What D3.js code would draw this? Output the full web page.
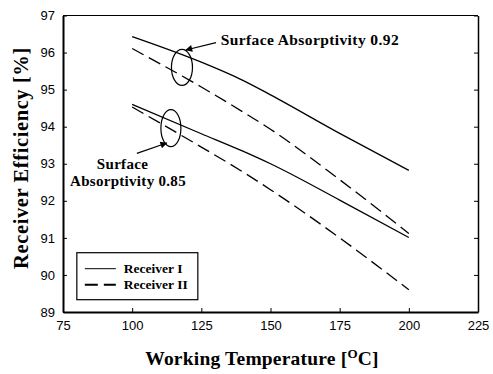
<!DOCTYPE html>
<html>
<head>
<meta charset="utf-8">
<script src="https://cdn.jsdelivr.net/npm/d3@7"></script>
<style>
  body { margin: 0; background: #fff; }
  .tick text { font-family: "Liberation Sans", Arial, sans-serif; font-size: 13px; fill: #000; }
  .lbl { font-family: "Liberation Serif", "Times New Roman", serif; font-weight: bold; fill: #000; }
</style>
</head>
<body>
<script>
// data
var temps = [100, 125, 140, 150, 175, 200];
var recI_092 = [96.43, 95.74, 95.25, 94.86, 93.82, 92.82];
var recII_092 = [96.11, 95.07, 94.40, 93.93, 92.57, 91.12];
var recI_085 = [94.60, 93.81, 93.34, 93.00, 92.02, 91.01];
var recII_085 = [94.53, 93.45, 92.78, 92.30, 91.00, 89.60];
var xTicks = [75, 100, 125, 150, 175, 200, 225];
var yTicks = [89, 90, 91, 92, 93, 94, 95, 96, 97];

var margin = {top: 15.5, right: 15, bottom: 62, left: 63},
  width = 493 - margin.left - margin.right,
  height = 374 - margin.top - margin.bottom;

var svg = d3.select("body").append("svg")
  .attr("width", 493)
  .attr("height", 374);

var defs = svg.append("defs");
defs.append("marker")
  .attr("id", "arr")
  .attr("viewBox", "0 0 10 10")
  .attr("refX", 9).attr("refY", 5)
  .attr("markerWidth", 9).attr("markerHeight", 7)
  .attr("markerUnits", "userSpaceOnUse")
  .attr("orient", "auto")
  .append("path").attr("d", "M0,0 L10,5 L0,10 z").attr("fill", "#000");

var g = svg.append("g")
  .attr("transform", "translate(" + margin.left + "," + margin.top + ")");

var x = d3.scaleLinear().domain([75, 225]).range([0, width]);
var y = d3.scaleLinear().domain([89, 97]).range([height, 0]);

// axes, ticks inward
var xAxis = d3.axisBottom(x).tickValues(xTicks).tickSizeInner(-4).tickSizeOuter(0).tickPadding(9);
var yAxis = d3.axisLeft(y).tickValues(yTicks).tickSizeInner(-4).tickSizeOuter(0).tickPadding(8);

var gx = g.append("g").attr("transform", "translate(0," + height + ")").call(xAxis);
var gy = g.append("g").call(yAxis);
gx.select(".domain").attr("stroke-width", 2);
gy.select(".domain").attr("stroke-width", 2);

g.append("g").attr("transform", "translate(" + width + ",0)")
  .call(d3.axisRight(y).tickValues(yTicks).tickSizeInner(-4).tickSizeOuter(0).tickFormat(""))
  .select(".domain").attr("stroke-width", 1.5);
g.append("line").attr("x1", 0).attr("x2", width).attr("y1", 0).attr("y2", 0)
  .attr("stroke", "#000").attr("stroke-width", 1);

// lines
var line = d3.line()
  .x(function(d) { return x(d[0]); })
  .y(function(d) { return y(d[1]); })
  .curve(d3.curveMonotoneX);

function series(vals) { return temps.map(function(t, i) { return [t, vals[i]]; }); }

var solid = [recI_092, recI_085], dashed = [recII_092, recII_085];
solid.forEach(function(s) {
  g.append("path").datum(series(s)).attr("d", line)
    .attr("fill", "none").attr("stroke", "#000").attr("stroke-width", 1.3);
});
dashed.forEach(function(s) {
  g.append("path").datum(series(s)).attr("d", line)
    .attr("fill", "none").attr("stroke", "#000").attr("stroke-width", 1.3)
    .attr("stroke-dasharray", "13,6");
});

// ellipses + arrows
g.append("ellipse").attr("cx", x(118)).attr("cy", y(95.6))
  .attr("rx", 10.5).attr("ry", 18).attr("fill", "none").attr("stroke", "#000").attr("stroke-width", 1.2);
g.append("ellipse").attr("cx", x(114)).attr("cy", y(93.96))
  .attr("rx", 10).attr("ry", 18.5).attr("fill", "none").attr("stroke", "#000").attr("stroke-width", 1.2);

g.append("line").attr("x1", x(130.3)).attr("y1", y(96.27)).attr("x2", x(119.4)).attr("y2", y(96.07))
  .attr("stroke", "#000").attr("stroke-width", 1.2).attr("marker-end", "url(#arr)");
g.append("line").attr("x1", x(101.7)).attr("y1", y(93.28)).attr("x2", x(112.5)).attr("y2", y(93.56))
  .attr("stroke", "#000").attr("stroke-width", 1.2).attr("marker-end", "url(#arr)");

g.append("text").attr("class", "lbl").attr("x", x(132)).attr("y", y(96.3) + 4)
  .style("font-size", "15.5px").style("letter-spacing", "0.4px").text("Surface Absorptivity 0.92");
g.append("text").attr("class", "lbl").attr("x", 122.5 - margin.left).attr("y", 169 - margin.top)
  .attr("text-anchor", "middle").style("font-size", "15px").style("letter-spacing", "0.3px").text("Surface");
g.append("text").attr("class", "lbl").attr("x", 70 - margin.left).attr("y", 185.5 - margin.top)
  .style("font-size", "15px").style("letter-spacing", "0.3px").text("Absorptivity 0.85");

// legend
var lg = g.append("g").attr("transform", "translate(" + (x(80)) + "," + (y(90.6)) + ")");
lg.append("rect").attr("width", 121).attr("height", 47)
  .attr("fill", "#fff").attr("stroke", "#000").attr("stroke-width", 1.2);
var legItems = ["Receiver I", "Receiver II"];
legItems.forEach(function(name, i) {
  var yy = 16 + i * 16;
  lg.append("line").attr("x1", 8).attr("x2", 39).attr("y1", yy).attr("y2", yy)
    .attr("stroke", "#000").attr("stroke-width", i ? 2 : 1)
    .attr("stroke-dasharray", i ? "13,6" : null);
  lg.append("text").attr("class", "lbl").attr("x", 47).attr("y", yy + 4)
    .style("font-size", "13.5px").text(name);
});

// axis titles
svg.append("text").attr("class", "lbl")
  .attr("transform", "translate(28,158) rotate(-90)")
  .attr("text-anchor", "middle").style("font-size", "20.5px").style("letter-spacing", "0.6px")
  .text("Receiver Efficiency [%]");

var xt = svg.append("text").attr("class", "lbl")
  .attr("x", 262).attr("y", 365)
  .attr("text-anchor", "middle").style("font-size", "19.5px").style("letter-spacing", "0.2px");
xt.append("tspan").text("Working Temperature [");
xt.append("tspan").attr("dy", -7).style("font-size", "13px").text("O");
xt.append("tspan").attr("dy", 7).text("C]");
</script>
</body>
</html>
